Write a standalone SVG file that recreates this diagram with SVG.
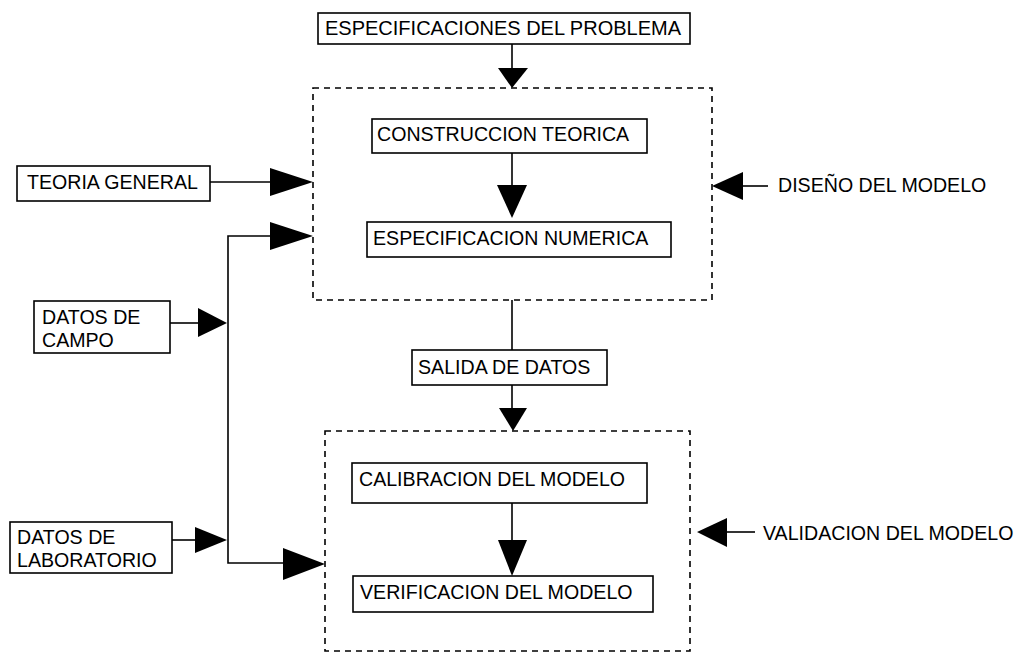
<svg xmlns="http://www.w3.org/2000/svg" width="1020" height="653" viewBox="0 0 1020 653">
<style>
  .box { fill: #fff; stroke: #000; stroke-width: 1.6; }
  .dash { fill: none; stroke: #000; stroke-width: 1.6; stroke-dasharray: 6 5; }
  .ln { fill: none; stroke: #000; stroke-width: 1.6; }
  .hd { fill: #000; stroke: none; }
  text { font-family: "Liberation Sans", Arial, sans-serif; font-size: 19.6px; fill: #000; }
  .big { font-size: 20px; }
</style>
<rect width="1020" height="653" fill="#fff"/>

<g id="group-diseno">
  <rect class="dash" x="313" y="88" width="399" height="212"/>
</g>
<g id="group-validacion">
  <rect class="dash" x="325" y="431" width="365" height="220"/>
</g>

<g id="connectors">
  <line class="ln" x1="512" y1="44" x2="512" y2="70"/>
  <polygon class="hd" points="498,68 528,68 512,88"/>
  <line class="ln" x1="512" y1="153" x2="512" y2="190"/>
  <polygon class="hd" points="497,185 527,185 512,218"/>
  <line class="ln" x1="512" y1="300" x2="512" y2="350"/>
  <line class="ln" x1="512" y1="385" x2="512" y2="410"/>
  <polygon class="hd" points="499,408 527,408 513,431"/>
  <line class="ln" x1="512" y1="503" x2="512" y2="545"/>
  <polygon class="hd" points="498,540 527,540 512,576"/>
  <line class="ln" x1="210" y1="182" x2="272" y2="182"/>
  <polygon class="hd" points="270,168 270,196 313,182"/>
  <polyline class="ln" points="272,236 228,236 228,563 285,563"/>
  <polygon class="hd" points="270,222 270,250 313,236"/>
  <line class="ln" x1="170" y1="323" x2="200" y2="323"/>
  <polygon class="hd" points="198,308 198,337 227,323"/>
  <line class="ln" x1="172" y1="540" x2="197" y2="540"/>
  <polygon class="hd" points="195,527 195,553 227,540"/>
  <polygon class="hd" points="283,548 283,580 325,564"/>
  <polygon class="hd" points="712,186 743,172 743,200"/>
  <line class="ln" x1="741" y1="186" x2="768" y2="186"/>
  <polygon class="hd" points="697,532 727,518 727,547"/>
  <line class="ln" x1="725" y1="532" x2="755" y2="532"/>
</g>

<g id="especificaciones">
  <rect class="box" x="318" y="13" width="372" height="31"/>
  <text class="big" x="325" y="35">ESPECIFICACIONES DEL PROBLEMA</text>
</g>
<g id="construccion">
  <rect class="box" x="372" y="119" width="275" height="34"/>
  <text x="377" y="141">CONSTRUCCION TEORICA</text>
</g>
<g id="especificacion-numerica">
  <rect class="box" x="367" y="222" width="304" height="35"/>
  <text x="373" y="245">ESPECIFICACION NUMERICA</text>
</g>
<g id="salida">
  <rect class="box" x="412" y="350" width="195" height="35"/>
  <text x="418" y="374">SALIDA DE DATOS</text>
</g>
<g id="calibracion">
  <rect class="box" x="352" y="463" width="295" height="40"/>
  <text x="359" y="486">CALIBRACION DEL MODELO</text>
</g>
<g id="verificacion">
  <rect class="box" x="353" y="576" width="300" height="36"/>
  <text x="360" y="599">VERIFICACION DEL MODELO</text>
</g>
<g id="teoria">
  <rect class="box" x="17" y="166" width="193" height="35"/>
  <text x="27" y="189">TEORIA GENERAL</text>
</g>
<g id="campo">
  <rect class="box" x="34" y="301" width="136" height="52"/>
  <text x="42" y="324">DATOS DE</text>
  <text x="42" y="347">CAMPO</text>
</g>
<g id="laboratorio">
  <rect class="box" x="10" y="522" width="162" height="51"/>
  <text x="17" y="544">DATOS DE</text>
  <text x="17" y="567">LABORATORIO</text>
</g>
<g id="diseno-label">
  <text x="778" y="192">DISEÑO DEL MODELO</text>
</g>
<g id="validacion-label">
  <text x="763" y="540">VALIDACION DEL MODELO</text>
</g>
</svg>
